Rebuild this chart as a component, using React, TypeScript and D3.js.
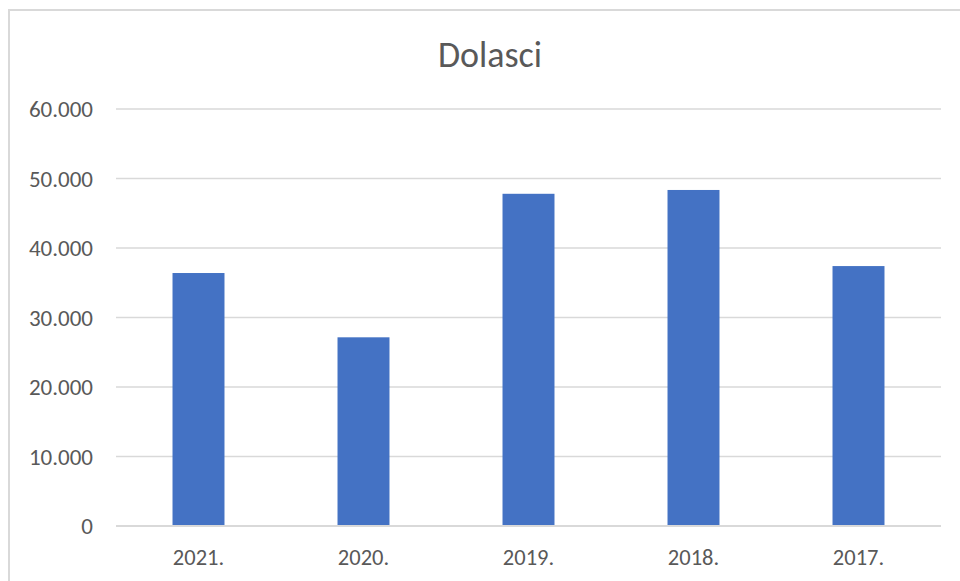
import React from "react";
import * as d3 from "d3";

const width = 960;
const height = 581;

const title = "Dolasci";
const years = ["2021.", "2020.", "2019.", "2018.", "2017."];
const arrivals = [36400, 27150, 47800, 48350, 37400];
const yTicks = [0, 10000, 20000, 30000, 40000, 50000, 60000];

const plot = { left: 116, right: 941, top: 109, bottom: 526 };
const font = "Calibri, Carlito, 'Open Sans', sans-serif";

// 60000 -> "60.000"
const fmt = (v: number) => (v === 0 ? "0" : d3.format(",")(v).replace(/,/g, "."));

const App = () => {
  const xScale = d3
    .scaleBand<string>()
    .domain(years)
    .range([plot.left, plot.right])
    .paddingInner(0.685)
    .paddingOuter(0.3425);
  const yScale = d3
    .scaleLinear()
    .domain([0, 60000])
    .range([plot.bottom, plot.top]);

  return (
    <svg
      width={width}
      height={height}
      style={{ position: "absolute", left: 0, top: 0, background: "#fff" }}
    >
      {/* chart frame, cut off on right and bottom */}
      <rect x={9} y={10} width={width + 20} height={height + 20} fill="#fff" stroke="#d9d9d9" strokeWidth={2} />
      <text
        x={490}
        y={67}
        textAnchor="middle"
        fontFamily={font}
        fontSize={36}
        fill="#595959"
      >
        {title}
      </text>
      {yTicks.map(t => (
        <g key={t}>
          <line
            x1={plot.left}
            x2={plot.right}
            y1={yScale(t)}
            y2={yScale(t)}
            stroke="#d9d9d9"
            strokeWidth={t === 0 ? 2 : 1.5}
          />
          <text
            x={93}
            y={yScale(t) + 8}
            textAnchor="end"
            fontFamily={font}
            fontSize={23}
            fill="#595959"
          >
            {fmt(t)}
          </text>
        </g>
      ))}
      {arrivals.map((v, i) => (
        <rect
          key={years[i]}
          x={xScale(years[i])}
          y={yScale(v)}
          width={xScale.bandwidth()}
          height={yScale(0) - yScale(v) - 1}
          fill="#4472c4"
        />
      ))}
      {years.map(y => (
        <text
          key={y}
          x={(xScale(y) || 0) + xScale.bandwidth() / 2}
          y={565}
          textAnchor="middle"
          fontFamily={font}
          fontSize={22.5}
          fill="#595959"
        >
          {y}
        </text>
      ))}
    </svg>
  );
};

export default App;
